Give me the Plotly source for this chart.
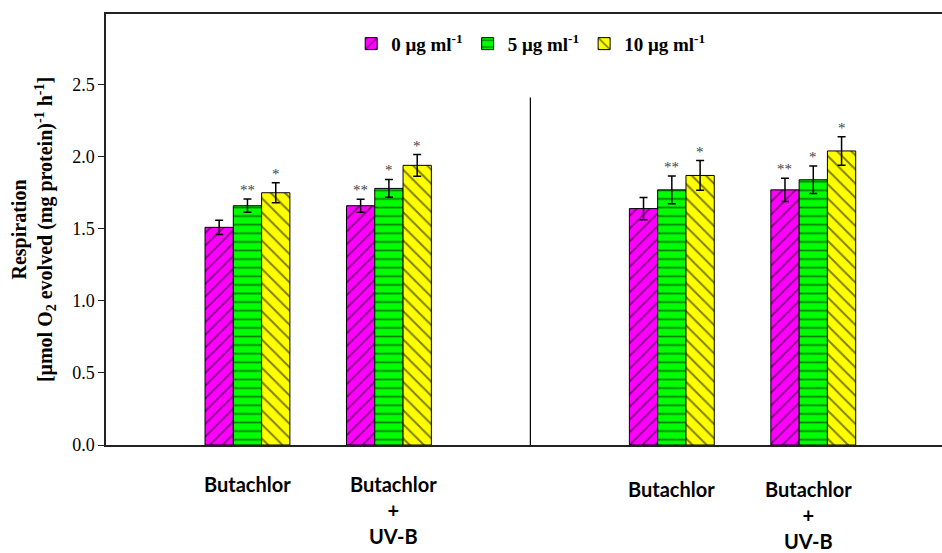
import plotly.graph_objects as go

# ---- data ----
group_labels = ["Butachlor", "Butachlor<br>+<br>UV-B", "Butachlor", "Butachlor<br>+<br>UV-B"]
group_pos = [0, 1, 3, 4]
series_names = ["0 μg ml<sup>-1</sup>", "5 μg ml<sup>-1</sup>", "10 μg ml<sup>-1</sup>"]
vals_0 = [1.51, 1.66, 1.64, 1.77]
vals_5 = [1.66, 1.78, 1.77, 1.84]
vals_10 = [1.75, 1.94, 1.87, 2.04]
err_0 = [0.05, 0.045, 0.077, 0.08]
err_5 = [0.046, 0.062, 0.097, 0.096]
err_10 = [0.07, 0.075, 0.103, 0.099]
sig_0 = ["", "**", "", "**"]
sig_5 = ["**", "*", "**", "*"]
sig_10 = ["*", "*", "*", "*"]
y_ticks = [0.0, 0.5, 1.0, 1.5, 2.0, 2.5]

# ---- styles ----
SERIF = "Liberation Serif"
colors = ["#FF00FF", "#00FF00", "#FFFF00"]
shapes_pat = ["/", "-", "\\"]
pat_sizes = [9, 8.6, 10]
bar_w = 0.2
offsets = [-bar_w, 0, bar_w]

values = [vals_0, vals_5, vals_10]
errors = [err_0, err_5, err_10]
sigs = [sig_0, sig_5, sig_10]

fig = go.Figure()
for i in range(3):
    fig.add_trace(go.Bar(
        x=group_pos, y=values[i], name=series_names[i],
        marker=dict(color=colors[i], line=dict(color="black", width=1),
                    pattern=dict(shape=shapes_pat[i], fgcolor="black", bgcolor=colors[i],
                                 size=pat_sizes[i], solidity=0.2, fillmode="overlay")),
        error_y=dict(type="data", array=errors[i], visible=True, color="black",
                     thickness=1.5, width=4),
    ))

annotations = []
for i in range(3):
    for j, p in enumerate(group_pos):
        if sigs[i][j]:
            annotations.append(dict(
                x=p + offsets[i], y=values[i][j] + errors[i][j], xref="x", yref="y",
                text=sigs[i][j], showarrow=False, yanchor="bottom", yshift=-1,
                font=dict(family=SERIF, size=15, color="#444444")))

label_shift = [0, 5, 0, -5]
label_y = [-0.058, -0.058, -0.07, -0.07]
for j, p in enumerate(group_pos):
    annotations.append(dict(
        x=p, y=label_y[j], xref="x", yref="paper", text=group_labels[j],
        showarrow=False, yanchor="top", xshift=label_shift[j],
        font=dict(family="Lato", size=20, color="black", weight="bold")))

fig.update_layout(
    width=942, height=553,
    margin=dict(l=106, r=0, t=14, b=108),
    paper_bgcolor="white", plot_bgcolor="white",
    barmode="group", bargap=0.4, bargroupgap=0,
    showlegend=True,
    legend=dict(orientation="h", x=0.508, xanchor="center", y=0.975, yanchor="top",
                font=dict(family=SERIF, size=19, color="black", weight="bold"),
                bgcolor="rgba(0,0,0,0)"),
    xaxis=dict(range=[-1, 4.91], showline=True, linecolor="#222222", linewidth=2,
               mirror=True, showticklabels=False, ticks="", showgrid=False, zeroline=False),
    yaxis=dict(range=[0, 2.99], tickvals=y_ticks, tickformat=".1f",
               showline=True, linecolor="#222222", linewidth=1.5,
               ticks="outside", ticklen=6, tickcolor="#222222",
               showgrid=False, zeroline=False,
               tickfont=dict(family=SERIF, size=18, color="black"),
               title=dict(text="Respiration<br>[μmol O<sub>2</sub> evolved (mg protein)<sup>-1</sup> h<sup>-1</sup>]",
                          font=dict(family=SERIF, size=20, color="black", weight="bold"),
                          standoff=14)),
    annotations=annotations,
    shapes=[dict(type="line", xref="x", yref="y", x0=2, x1=2, y0=0, y1=2.41,
                 line=dict(color="black", width=1.2))],
)

fig.write_html("out.html")
